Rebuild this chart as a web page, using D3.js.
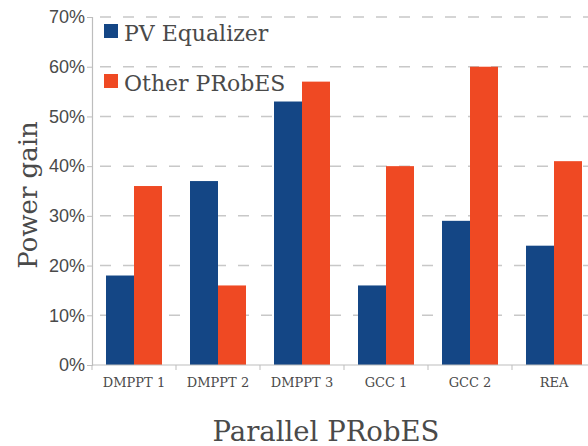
<!DOCTYPE html>
<html>
<head>
<meta charset="utf-8">
<script src="https://cdn.jsdelivr.net/npm/d3@7"></script>
<style>
  html, body { margin: 0; padding: 0; background: #fff; }
  svg { display: block; }
</style>
</head>
<body>
<svg id="chart" width="588" height="446"></svg>
<script>
// Power gain per parallel PRobES configuration
const categories = ["DMPPT 1", "DMPPT 2", "DMPPT 3", "GCC 1", "GCC 2", "REA"];
const seriesNames = ["PV Equalizer", "Other PRobES"];
const pvEqualizer = [18, 37, 53, 16, 29, 24];
const otherProbes = [36, 16, 57, 40, 60, 41];
const yTicks = [0, 10, 20, 30, 40, 50, 60, 70];
const colors = ["#144685", "#ef4923"];

const svg = d3.select("#chart");
const margin = { left: 92, top: 17, bottom: 81 };
const plotW = 504; // runs past the right edge of the window
const plotH = 446 - margin.top - margin.bottom;

const serif = "'DejaVu Serif', 'Liberation Serif', serif";
const sans = "'Liberation Sans', Arial, sans-serif";
const textColor = "#4a4a4a";

const x = d3.scaleBand().domain(categories).range([margin.left, margin.left + plotW])
  .paddingInner(1 / 3).paddingOuter(1 / 6);
const xs = d3.scaleBand().domain(seriesNames).range([0, x.bandwidth()]);
const y = d3.scaleLinear().domain([0, 70]).range([margin.top + plotH, margin.top]);

// dashed gridlines
svg.append("g").selectAll("line").data(yTicks.filter(d => d > 0)).join("line")
  .attr("x1", margin.left + 8).attr("x2", margin.left + plotW)
  .attr("y1", d => y(d)).attr("y2", d => y(d))
  .attr("stroke", "#c8c8c8").attr("stroke-width", 1.5)
  .attr("stroke-dasharray", "11,12");

// bars
const rows = categories.map((c, i) => ({ c, vals: [pvEqualizer[i], otherProbes[i]] }));
svg.append("g").selectAll("g").data(rows).join("g")
  .attr("transform", d => `translate(${x(d.c)},0)`)
  .selectAll("rect").data(d => d.vals.map((v, k) => ({ k, v }))).join("rect")
  .attr("x", d => xs(seriesNames[d.k]))
  .attr("width", xs.bandwidth())
  .attr("y", d => y(d.v))
  .attr("height", d => y(0) - y(d.v))
  .attr("fill", d => colors[d.k]);

// y axis
const yAxis = svg.append("g").attr("transform", `translate(${margin.left},0)`)
  .call(d3.axisLeft(y).tickValues(yTicks).tickFormat(d => d + "%").tickSize(5).tickPadding(2));
yAxis.select(".domain").attr("stroke", "#bdbdbd").attr("stroke-width", 1.2);
yAxis.selectAll(".tick line").attr("stroke", "#bdbdbd");
yAxis.selectAll(".tick text").attr("font-family", sans).attr("font-size", 18)
  .attr("fill", textColor);

// x axis: ticks at band boundaries
const xAxisG = svg.append("g").attr("transform", `translate(0,${y(0)})`);
xAxisG.append("line").attr("x1", margin.left).attr("x2", margin.left + plotW)
  .attr("stroke", "#bdbdbd").attr("stroke-width", 1.2);
xAxisG.selectAll("line.tk").data(d3.range(categories.length + 1)).join("line")
  .attr("class", "tk")
  .attr("x1", i => margin.left + i * x.step()).attr("x2", i => margin.left + i * x.step())
  .attr("y1", 0).attr("y2", 5).attr("stroke", "#bdbdbd");
xAxisG.selectAll("text").data(categories).join("text")
  .attr("x", d => x(d) + x.bandwidth() / 2).attr("y", 22)
  .attr("text-anchor", "middle")
  .attr("font-family", serif).attr("font-size", 13)
  .attr("fill", textColor).text(d => d);

// axis titles
svg.append("text").attr("transform", "translate(37,195) rotate(-90)")
  .attr("text-anchor", "middle").attr("font-family", serif).attr("font-size", 26)
  .attr("fill", textColor).text("Power gain");
svg.append("text").attr("x", 326).attr("y", 441)
  .attr("text-anchor", "middle").attr("font-family", serif).attr("font-size", 27.5)
  .attr("fill", textColor).text("Parallel PRobES");

// legend
const legend = svg.append("g").selectAll("g").data(seriesNames).join("g")
  .attr("transform", (d, i) => `translate(104,${24 + i * 50})`);
legend.append("rect").attr("width", 14).attr("height", 14).attr("fill", (d, i) => colors[i]);
legend.append("text").attr("x", 20).attr("y", 17)
  .attr("font-family", serif).attr("font-size", 22)
  .attr("fill", textColor).text(d => d);
</script>
</body>
</html>
